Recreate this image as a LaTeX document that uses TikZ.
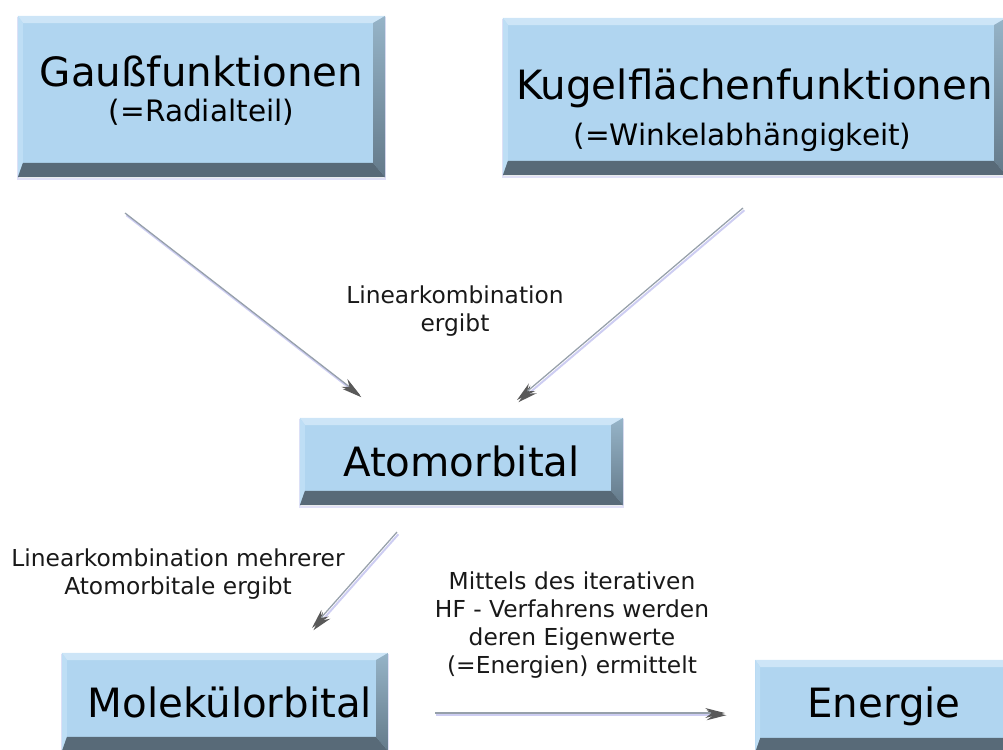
\documentclass[tikz,border=0pt]{standalone}
\usepackage{fontspec}
\setmainfont{DejaVu Sans}
\usetikzlibrary{arrows.meta}

\definecolor{panelblue}{RGB}{176,213,240}
\definecolor{paneldark}{RGB}{88,106,120}
\definecolor{panelsidetop}{RGB}{150,180,200}
\definecolor{panelsidebot}{RGB}{100,122,138}
\definecolor{panellight}{RGB}{205,229,247}
\definecolor{panelleft}{RGB}{190,222,245}
\definecolor{flowgray}{RGB}{150,160,170}
\definecolor{flowshade}{RGB}{205,205,242}

\tikzset{
  panel/.style={fill=panelblue, inner sep=0pt, align=center,
    font=\fontsize{28.7}{25}\selectfont,
    preaction={draw=flowshade!60, line width=1pt, transform canvas={yshift=-1.5pt}},
    path picture={
      \coordinate (nw) at (path picture bounding box.north west);
      \coordinate (ne) at (path picture bounding box.north east);
      \coordinate (se) at (path picture bounding box.south east);
      \coordinate (sw) at (path picture bounding box.south west);
      \fill[panellight] (nw) -- (ne) -- ([shift={(-8.5pt,-5pt)}]ne) -- ([shift={(3.5pt,-5pt)}]nw) -- cycle;
      \fill[panelleft] (nw) -- ([shift={(3.5pt,-5pt)}]nw) -- ([shift={(3.5pt,10pt)}]sw) -- (sw) -- cycle;
      \shade[top color=panelsidetop, bottom color=panelsidebot] (ne) -- (se) -- ([shift={(-8.5pt,10pt)}]se) -- ([shift={(-8.5pt,-5pt)}]ne) -- cycle;
      \fill[paneldark] (sw) -- (se) -- ([shift={(-8.5pt,10pt)}]se) -- ([shift={(3.5pt,10pt)}]sw) -- cycle;
    }},
  note/.style={font=\fontsize{16.6}{19.8}\selectfont, align=center, text=black!90},
  flow/.style={-{Stealth[length=14pt,width=7pt,color=black!65]}, draw=flowgray, line width=0.9pt,
    preaction={draw=flowshade, line width=1.4pt, transform canvas={shift={(1pt,-1.6pt)}}}},
}

\begin{document}
\begin{tikzpicture}[x=0.025cm, y=-0.025cm]
\useasboundingbox (0,0) rectangle (1003,749);

\node[panel, minimum width=9.175cm, minimum height=4.025cm] (gauss) at (201.5,96.5)
  {Gaußfunktionen\\{\fontsize{21}{25}\selectfont (=Radialteil)\rule[-11pt]{0pt}{1pt}}};
\node[panel, minimum width=12.575cm, minimum height=3.925cm] (kugel) at (754.5,96.5)
  {\rule{0pt}{41pt}Kugelflächenfunktionen\\[7.5pt]{\fontsize{21}{25}\selectfont (=Winkelabhängigkeit)\hspace*{17pt}}};
\node[panel, minimum width=8.075cm, minimum height=2.175cm] (atom) at (461.5,461.5) {Atomorbital};
\node[panel, minimum width=8.15cm, minimum height=2.45cm] (molekuel) at (225,702) {\hspace*{7pt}Molekülorbital};
\node[panel, anchor=west, minimum height=2.3cm, inner xsep=1.3cm, text width=6cm, align=left] (energie) at (755,706) {Energie};

\node[note] (lk) at (455,311) {Linearkombination\\ergibt};
\node[note] (lkm) at (178,574) {Linearkombination mehrerer\\Atomorbitale ergibt};
\node[note] (hf) at (572,625) {Mittels des iterativen\\HF - Verfahrens werden\\deren Eigenwerte\\(=Energien) ermittelt};

% arrow ends
\coordinate (gauss-out) at (125,213);
\coordinate (atom-in1) at (360,395);
\coordinate (kugel-out) at (743,208);
\coordinate (atom-in2) at (517,400);
\coordinate (atom-out) at (397,532);
\coordinate (molekuel-in) at (312,628);
\coordinate (molekuel-out) at (435,713);
\coordinate (energie-in) at (725,713);

\draw[flow] (gauss-out) -- (atom-in1);
\draw[flow] (kugel-out) -- (atom-in2);
\draw[flow] (atom-out) -- (molekuel-in);
\draw[flow] (molekuel-out) -- (energie-in);
\end{tikzpicture}
\end{document}
